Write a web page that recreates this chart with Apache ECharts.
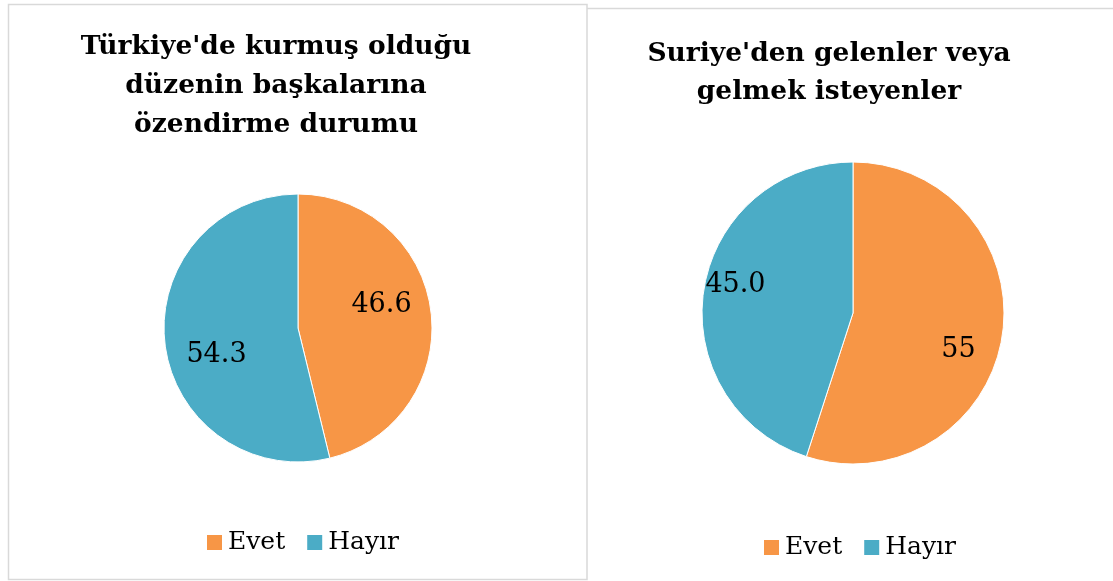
<!DOCTYPE html>
<html>
<head>
<meta charset="utf-8">
<script src="https://cdn.jsdelivr.net/npm/echarts@6/dist/echarts.min.js"></script>
<style>
  html, body { margin: 0; padding: 0; background: #fff; }
  #chart { width: 1113px; height: 581px; }
</style>
</head>
<body>
<div id="chart"></div>
<script>
// data
const categories = ['Evet', 'Hayır'];
const colors = ['#F79646', '#4BACC6'];

const leftTitle = "Türkiye'de kurmuş olduğu\ndüzenin başkalarına\nözendirme durumu";
const leftValues = [46.6, 54.3];
const leftLabels = ['46.6', '54.3'];

const rightTitle = "Suriye'den gelenler veya\ngelmek isteyenler";
const rightValues = [55, 45.0];
const rightLabels = ['55', '45.0'];

const serif = 'DejaVu Serif';

// label nudges, like Excel's best fit placement
const leftOffsets = [[14, -15], [-12, 19]];
const rightOffsets = [[28, 25], [-40, -16]];

function pieData(values, labels, offsets) {
  return values.map((v, i) => ({
    name: categories[i],
    value: v,
    itemStyle: { color: colors[i] },
    label: { offset: offsets[i], formatter: labels[i] }
  }));
}

const pieBase = {
  type: 'pie',
  startAngle: 90,
  clockwise: true,
  silent: true,
  animation: false,
  itemStyle: { borderColor: '#fff', borderWidth: 1 },
  label: {
    show: true,
    position: 'inside',
    color: '#000',
    fontFamily: serif,
    fontSize: 27
  },
  labelLine: { show: false }
};

const titleStyle = {
  fontFamily: serif,
  fontWeight: 'bold',
  fontSize: 26.5,
  color: '#000'
};

const legendBase = {
  icon: 'rect',
  itemWidth: 17,
  itemHeight: 17,
  itemGap: 20,
  selectedMode: false,
  data: categories,
  textStyle: { fontFamily: serif, fontSize: 25, color: '#000' }
};

const chart = echarts.init(document.getElementById('chart'));
chart.setOption({
  backgroundColor: '#fff',
  animation: false,
  title: [
    {
      text: leftTitle,
      left: 271,
      top: 23,
      textAlign: 'center',
      textStyle: Object.assign({ lineHeight: 39 }, titleStyle)
    },
    {
      text: rightTitle,
      left: 824,
      top: 30,
      textAlign: 'center',
      textStyle: Object.assign({ lineHeight: 38 }, titleStyle)
    }
  ],
  legend: [
    Object.assign({ left: 200, top: 525 }, legendBase),
    Object.assign({ left: 757, top: 530 }, legendBase)
  ],
  graphic: [
    {
      type: 'rect',
      shape: { x: 8.5, y: 4.5, width: 578.5, height: 575 },
      style: { fill: null, stroke: '#d9d9d9', lineWidth: 1.5 },
      silent: true
    },
    {
      type: 'line',
      shape: { x1: 587, y1: 8.5, x2: 1113, y2: 8.5 },
      style: { stroke: '#d9d9d9', lineWidth: 1.5 },
      silent: true
    }
  ],
  series: [
    Object.assign({}, pieBase, {
      name: 'left',
      center: [298, 328],
      radius: 134,
      data: pieData(leftValues, leftLabels, leftOffsets)
    }),
    Object.assign({}, pieBase, {
      name: 'right',
      center: [853, 313],
      radius: 151,
      data: pieData(rightValues, rightLabels, rightOffsets)
    })
  ]
});
</script>
</body>
</html>
